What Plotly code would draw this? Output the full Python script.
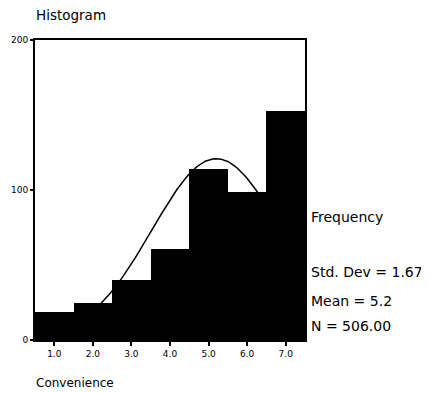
import numpy as np
import plotly.graph_objects as go

categories = [1, 2, 3, 4, 5, 6, 7]
tick_labels = ["1.0", "2.0", "3.0", "4.0", "5.0", "6.0", "7.0"]
frequencies = [19, 25, 40, 61, 114, 99, 153]
std_dev = 1.67
mean = 5.2
n_total = 506
bin_width = 1.0

xs = np.linspace(0.5, 7.5, 200)
curve = n_total * bin_width / (std_dev * np.sqrt(2 * np.pi)) * np.exp(-0.5 * ((xs - mean) / std_dev) ** 2)

FONT = "DejaVu Sans"

fig = go.Figure()
fig.add_trace(go.Scatter(x=xs, y=curve, mode="lines", line=dict(color="black", width=1.5),
                         xaxis="x", yaxis="y", showlegend=False, hoverinfo="skip"))
fig.add_trace(go.Bar(x=categories, y=frequencies, width=bin_width, marker=dict(color="black", line=dict(width=0)),
                     xaxis="x2", yaxis="y2", showlegend=False))

# page body has an 8px margin; the figure is placed at (8, 8)
fig.update_layout(
    width=421, height=385,
    margin=dict(l=27, r=124, t=32, b=53),
    paper_bgcolor="white", plot_bgcolor="white",
    bargap=0,
    xaxis=dict(range=[0.5, 7.5], tickvals=categories, ticktext=tick_labels,
               showline=True, linecolor="black", linewidth=2, mirror=True,
               ticks="outside", ticklen=4, tickcolor="black", tickwidth=1.5,
               showgrid=False, zeroline=False, automargin=False,
               tickfont=dict(family=FONT, size=9, color="black")),
    yaxis=dict(range=[0, 200], tickvals=[0, 100, 200], ticktext=["0", "100", "200"],
               showline=True, linecolor="black", linewidth=2, mirror=True,
               ticks="outside", ticklen=3, tickcolor="black", tickwidth=1.5,
               showgrid=False, zeroline=False, automargin=False,
               tickfont=dict(family=FONT, size=9, color="black")),
    xaxis2=dict(range=[0.5, 7.5], overlaying="x", visible=False, automargin=False),
    yaxis2=dict(range=[0, 200], overlaying="y", visible=False, automargin=False),
)

annotations = [
    ("Histogram", -0.002, 1.083, 13.5),
    ("Convenience", -0.002, -0.143, 12),
    ("Frequency", 1.015, 0.41, 14),
    ("Std. Dev = 1.67", 1.015, 0.227, 14),
    ("Mean = 5.2", 1.015, 0.13, 14),
    ("N = 506.00", 1.015, 0.047, 14),
]
for text, ax, ay, size in annotations:
    fig.add_annotation(text=text, x=ax, y=ay, xref="paper", yref="paper",
                       xanchor="left", yanchor="middle", showarrow=False,
                       font=dict(family=FONT, size=size, color="black"))

fig.write_html("out.html")
